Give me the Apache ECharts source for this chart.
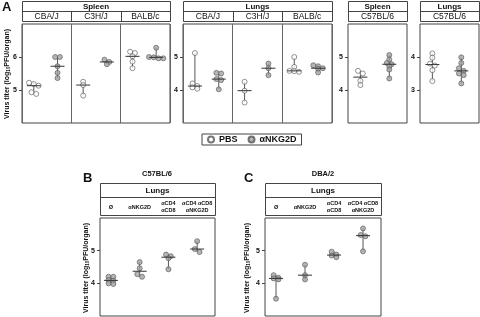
<!DOCTYPE html>
<html><head><meta charset="utf-8">
<script src="https://cdn.jsdelivr.net/npm/echarts@6/dist/echarts.min.js"></script>
<style>html,body{margin:0;padding:0;background:#fff}#c{width:480px;height:317px}</style>
</head><body><div id="c"></div>
<script>
// ---------------- data ----------------
const strainsA = ['CBA/J', 'C3H/J', 'BALB/c'];
const treatmentNames = ['PBS', 'αNKG2D'];
const spleenPBS   = [[5.22, 5.18, 5.13, 4.93, 4.88], [5.25, 5.15, 4.83], [6.16, 6.12, 6.02, 5.86, 5.66]];
const spleenNKG2D = [[6.0, 6.0, 5.72, 5.52, 5.36], [5.92, 5.85, 5.78], [6.28, 6.0, 5.99, 5.96, 5.96]];
const lungsPBS    = [[5.12, 4.2, 4.12, 4.08, 4.04], [4.25, 3.98, 3.62], [5.0, 4.7, 4.58, 4.57, 4.55]];
const lungsNKG2D  = [[4.52, 4.5, 4.33, 4.3, 4.02], [4.8, 4.66, 4.45], [4.75, 4.72, 4.66, 4.64, 4.53]];
const c57SpleenPBS   = [4.58, 4.5, 4.28, 4.15];
const c57SpleenNKG2D = [5.06, 4.92, 4.82, 4.78, 4.72, 4.62, 4.35];
const c57LungsPBS    = [4.11, 3.98, 3.8, 3.74, 3.6, 3.27];
const c57LungsNKG2D  = [3.99, 3.82, 3.66, 3.58, 3.5, 3.45, 3.2];
const depletionGroups = ['Ø', 'αNKG2D', 'αCD4\nαCD8', 'αCD4 αCD8\nαNKG2D'];
const c57Depletion = [[4.2, 4.2, 4.1, 4.08, 4.0, 3.98], [4.65, 4.46, 4.28, 4.2], [4.88, 4.83, 4.77, 4.43], [5.29, 5.05, 4.96]];
const dbaDepletion = [[4.25, 4.17, 4.15, 4.12, 3.53], [4.57, 4.25, 4.12], [4.97, 4.88, 4.85, 4.8], [5.68, 5.48, 5.44, 4.98]];
const yTicksA1 = [5, 6];
const yTicksA2 = [4, 5];
const yTicksA3 = [4, 5];
const yTicksA4 = [3, 4];
const yTicksBC = [4, 5];

// ---------------- layout / style ----------------
const FONT = '"Liberation Sans", Arial, Helvetica, sans-serif';
const LINE = '#444';
const styles = {
  PBS: { color: '#ffffff', borderColor: '#555', borderWidth: 0.8 },
  NKG: { color: '#a4a4a4', borderColor: '#555', borderWidth: 0.8 }
};
const DIAM = 5;

const panels = [
  { left: 22, top: 24, width: 148, height: 99, ncol: 3, y: [4, 7], ticks: yTicksA1, organ: 'Spleen', cols: strainsA,
    groups: [spleenPBS, spleenNKG2D], names: treatmentNames, st: ['PBS', 'NKG'], off: [-0.26, 0.22], split: true, head: [1, 11, 21], colDiv: true },
  { left: 183, top: 24, width: 149, height: 99, ncol: 3, y: [3, 6], ticks: yTicksA2, organ: 'Lungs', cols: strainsA,
    groups: [lungsPBS, lungsNKG2D], names: treatmentNames, st: ['PBS', 'NKG'], off: [-0.26, 0.22], split: true, head: [1, 11, 21], colDiv: true },
  { left: 348, top: 24, width: 59, height: 99, ncol: 1, y: [3, 6], ticks: yTicksA3, organ: 'Spleen', cols: ['C57BL/6'],
    groups: [[c57SpleenPBS], [c57SpleenNKG2D]], names: treatmentNames, st: ['PBS', 'NKG'], off: [-0.29, 0.2], split: false, head: [1, 11, 21] },
  { left: 420, top: 24, width: 59, height: 99, ncol: 1, y: [2, 5], ticks: yTicksA4, organ: 'Lungs', cols: ['C57BL/6'],
    groups: [[c57LungsPBS], [c57LungsNKG2D]], names: treatmentNames, st: ['PBS', 'NKG'], off: [-0.29, 0.2], split: false, head: [1, 11, 21] },
  { left: 100, top: 218, width: 115, height: 98, ncol: 4, y: [3, 6], ticks: yTicksBC, organ: 'Lungs', cols: depletionGroups,
    groups: [c57Depletion], names: ['C57BL/6 depletion'], st: ['NKG'], off: [-0.12], split: false, head: [183, 197, 215], small: true },
  { left: 265, top: 218, width: 116, height: 98, ncol: 4, y: [3, 6], ticks: yTicksBC, organ: 'Lungs', cols: depletionGroups,
    groups: [dbaDepletion], names: ['DBA/2 depletion'], st: ['NKG'], off: [-0.12], split: false, head: [183, 197, 215], small: true }
];

function median(a) {
  const s = a.slice().sort((x, y) => x - y);
  const n = s.length;
  return n % 2 ? s[(n - 1) / 2] : (s[n / 2 - 1] + s[n / 2]) / 2;
}
// beeswarm: rows of near-equal values spread horizontally (pixel space -> data units)
function swarm(vals, xc, pxX, pxY) {
  const s = vals.slice().sort((a, b) => b - a);
  const rows = [];
  let cur = null;
  s.forEach(v => {
    if (!cur || (cur[0] - v) * pxY > DIAM * 0.6) { cur = [v]; rows.push(cur); } else cur.push(v);
  });
  const out = [];
  rows.forEach(r => {
    const k = r.length;
    r.forEach((v, i) => out.push([xc + ((i - (k - 1) / 2) * DIAM * 0.95) / pxX, v]));
  });
  return out;
}

const grids = [], xAxes = [], yAxes = [], series = [], graphics = [];
panels.forEach((p, pi) => {
  grids.push({ left: p.left, top: p.top, width: p.width, height: p.height, show: true, borderColor: LINE, borderWidth: 1, backgroundColor: 'transparent' });
  xAxes.push({ gridIndex: pi, type: 'value', min: 0, max: p.ncol, interval: 1,
    axisLine: { show: false }, axisTick: { show: false }, axisLabel: { show: false },
    splitLine: { show: p.split, lineStyle: { color: '#666', width: 1 } } });
  yAxes.push({ gridIndex: pi, type: 'value', min: p.y[0], max: p.y[1], interval: 1,
    axisLine: { show: false },
    axisTick: { show: true, length: 3, lineStyle: { color: LINE }, customValues: p.ticks },
    axisLabel: { show: true, margin: 5, fontSize: 7, fontWeight: 'bold', color: '#111', fontFamily: FONT, customValues: p.ticks },
    splitLine: { show: false } });
  const pxX = p.width / p.ncol, pxY = p.height / (p.y[1] - p.y[0]);
  p.groups.forEach((grp, ti) => {
    const pts = [], summ = [];
    grp.forEach((vals, ci) => {
      const xc = ci + 0.5 + p.off[ti];
      swarm(vals, xc, pxX, pxY).forEach(q => pts.push(q));
      summ.push([xc, Math.min(...vals), Math.max(...vals), median(vals)]);
    });
    series.push({ type: 'custom', name: p.names[ti] + '-range', xAxisIndex: pi, yAxisIndex: pi, z: 1, silent: true,
      data: summ,
      renderItem: (params, api) => {
        const x = api.value(0);
        const a = api.coord([x, api.value(1)]), b = api.coord([x, api.value(2)]);
        return { type: 'line', shape: { x1: a[0], y1: a[1], x2: b[0], y2: b[1] }, style: { stroke: '#444', lineWidth: 0.9 } };
      } });
    series.push({ type: 'scatter', name: p.names[ti], xAxisIndex: pi, yAxisIndex: pi, z: 2, symbol: 'circle', symbolSize: DIAM,
      itemStyle: styles[p.st[ti]], data: pts });
    series.push({ type: 'custom', name: p.names[ti] + '-median', xAxisIndex: pi, yAxisIndex: pi, z: 3, silent: true,
      data: summ,
      renderItem: (params, api) => {
        const m = api.coord([api.value(0), api.value(3)]);
        return { type: 'line', shape: { x1: m[0] - 7, y1: m[1], x2: m[0] + 7, y2: m[1] }, style: { stroke: '#333', lineWidth: 1 } };
      } });
  });

  // header boxes
  const [h0, h1, h2] = p.head;
  const L = p.left + 0.5, R = p.left + p.width + 0.5;
  graphics.push({ type: 'rect', shape: { x: L, y: h0 + 0.5, width: p.width, height: h2 - h0 }, style: { fill: '#fff', stroke: LINE, lineWidth: 1 } });
  graphics.push({ type: 'line', shape: { x1: L, y1: h1 + 0.5, x2: R, y2: h1 + 0.5 }, style: { stroke: LINE, lineWidth: 1 } });
  graphics.push({ type: 'text', x: p.left + p.width / 2, y: (h0 + h1) / 2 + 1, style: { text: p.organ, font: 'bold 8px ' + FONT, fill: '#111', textAlign: 'center', textVerticalAlign: 'middle' } });
  p.cols.forEach((c, ci) => {
    const cx = p.small ? p.left + pxX * (ci + 0.5 + p.off[0]) : p.left + pxX * (ci + 0.5);
    graphics.push({ type: 'text', x: cx, y: (h1 + h2) / 2 + 1, style: {
      text: c, font: (p.small ? 'bold 5.5px ' : '8.5px ') + FONT, fill: '#111', textAlign: 'center', textVerticalAlign: 'middle', lineHeight: p.small ? 7 : 9 } });
    if (p.colDiv && ci > 0) {
      const xx = Math.round(p.left + pxX * ci) + 0.5;
      graphics.push({ type: 'line', shape: { x1: xx, y1: h1, x2: xx, y2: h2 }, style: { stroke: LINE, lineWidth: 1 } });
    }
  });
});

function yTitle(x, y) {
  return { type: 'text', x: x, y: y, rotation: Math.PI / 2, style: {
    text: '{a|Virus titer (log}{s|10}{a|PFU/organ)}', textAlign: 'center', textVerticalAlign: 'middle', fill: '#111',
    rich: { a: { fontSize: 7, fontWeight: 'bold', fontFamily: FONT, lineHeight: 9, verticalAlign: 'middle' },
            s: { fontSize: 4.5, fontWeight: 'bold', fontFamily: FONT, lineHeight: 9, verticalAlign: 'bottom' } } } };
}
graphics.push(yTitle(7, 74));
graphics.push(yTitle(86, 268));
graphics.push(yTitle(247, 268));
graphics.push({ type: 'text', x: 2, y: 1, style: { text: 'A', font: 'bold 13px ' + FONT, fill: '#111' } });
graphics.push({ type: 'text', x: 83, y: 172, style: { text: 'B', font: 'bold 13px ' + FONT, fill: '#111' } });
graphics.push({ type: 'text', x: 244, y: 172, style: { text: 'C', font: 'bold 13px ' + FONT, fill: '#111' } });
graphics.push({ type: 'text', x: 157, y: 174, style: { text: 'C57BL/6', font: 'bold 7.5px ' + FONT, fill: '#111', textAlign: 'center', textVerticalAlign: 'middle' } });
graphics.push({ type: 'text', x: 323, y: 174, style: { text: 'DBA/2', font: 'bold 7.5px ' + FONT, fill: '#111', textAlign: 'center', textVerticalAlign: 'middle' } });

const chart = echarts.init(document.getElementById('c'), null, { renderer: 'canvas' });
chart.setOption({
  animation: false,
  textStyle: { fontFamily: FONT },
  grid: grids, xAxis: xAxes, yAxis: yAxes, series: series,
  legend: { data: treatmentNames, left: 202, top: 134, itemWidth: 6, itemHeight: 6, itemGap: 10, icon: 'circle',
    padding: [1, 5, 1, 5], borderColor: LINE, borderWidth: 1, selectedMode: false,
    textStyle: { fontSize: 9, fontWeight: 'bold', color: '#111', fontFamily: FONT, lineHeight: 8 } },
  graphic: { elements: graphics }
});
</script></body></html>
